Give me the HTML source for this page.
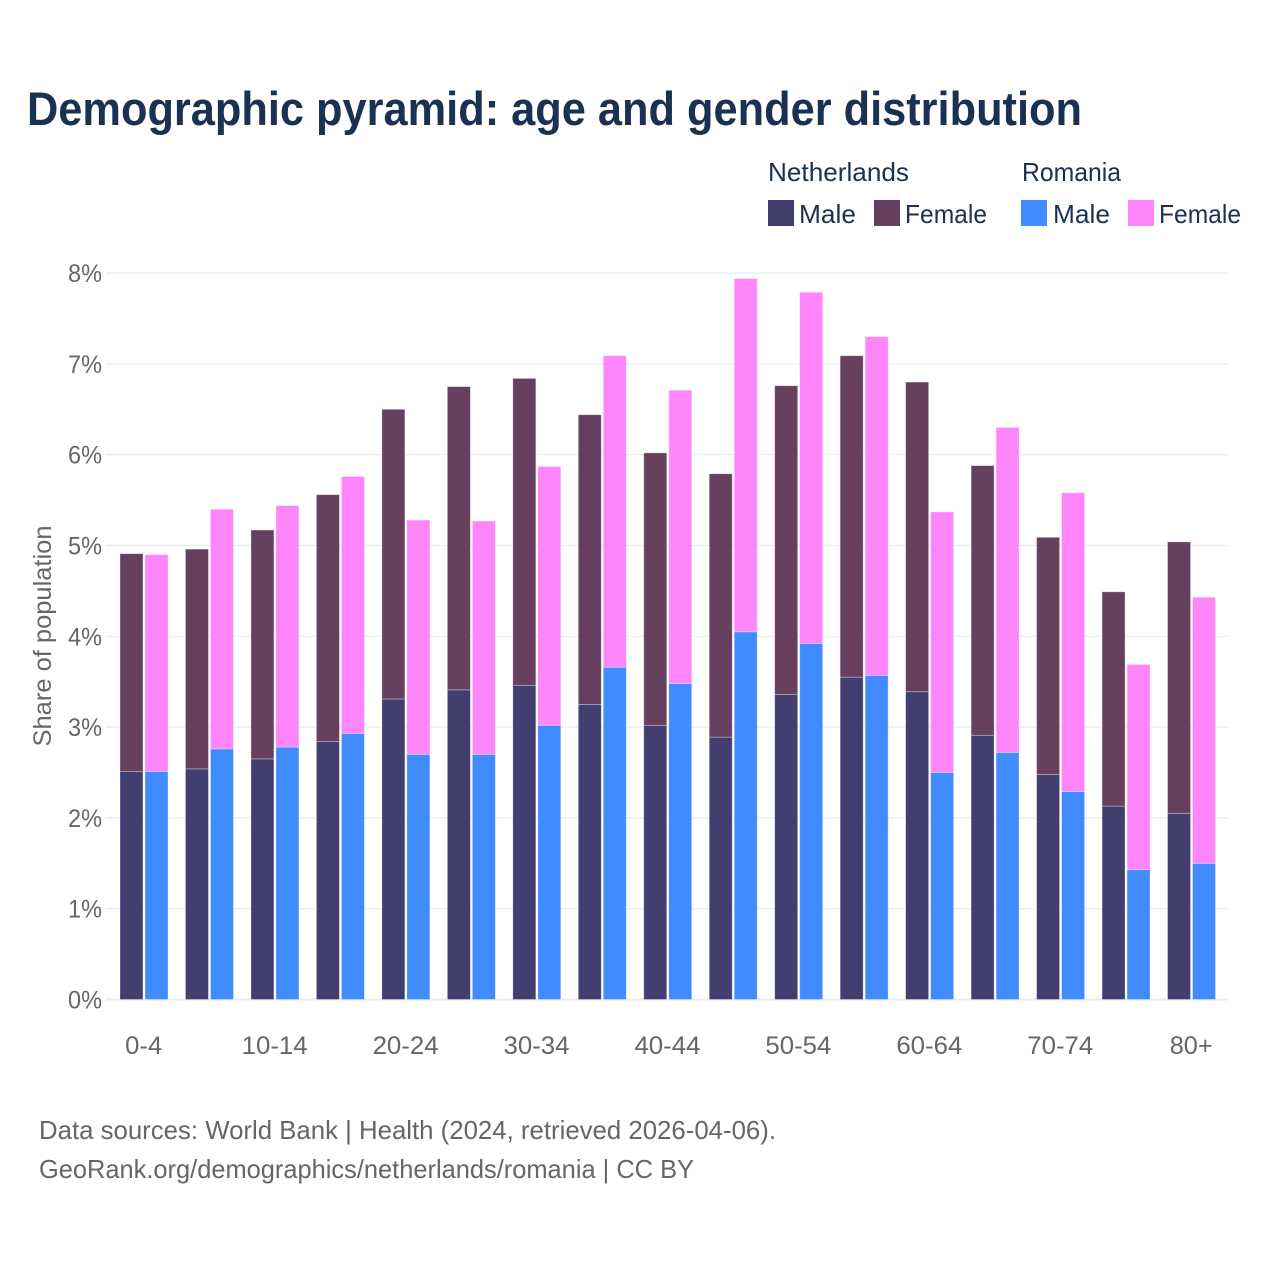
<!DOCTYPE html>
<html lang="en">
<head>
<meta charset="utf-8">
<title>Demographic pyramid: age and gender distribution</title>
<style>
html,body{margin:0;padding:0;background:#fff;}
svg{display:block;font-family:"Liberation Sans",sans-serif;}
</style>
</head>
<body>
<svg id="chart" xmlns="http://www.w3.org/2000/svg" width="1280" height="1280" viewBox="0 0 1280 1280">
  <rect x="0" y="0" width="1280" height="1280" fill="#ffffff"/>
  <text x="27" y="125" font-size="47" font-weight="700" fill="#1a3152" textLength="1055" lengthAdjust="spacingAndGlyphs">Demographic pyramid: age and gender distribution</text>

  <g font-size="26" fill="#1a3152">
    <text x="768" y="181" textLength="141" lengthAdjust="spacingAndGlyphs">Netherlands</text>
    <text x="1022" y="181" textLength="99" lengthAdjust="spacingAndGlyphs">Romania</text>
    <rect x="768" y="200" width="26" height="26" fill="#433e70"/>
    <text x="799" y="223" textLength="57" lengthAdjust="spacingAndGlyphs">Male</text>
    <rect x="874" y="200" width="26" height="26" fill="#67405f"/>
    <text x="905" y="223" textLength="82" lengthAdjust="spacingAndGlyphs">Female</text>
    <rect x="1021" y="200" width="26" height="26" fill="#408cff"/>
    <text x="1053" y="223" textLength="57" lengthAdjust="spacingAndGlyphs">Male</text>
    <rect x="1128" y="200" width="26" height="26" fill="#ff85fb"/>
    <text x="1159" y="223" textLength="82" lengthAdjust="spacingAndGlyphs">Female</text>
  </g>

  <g id="grid"></g>
  <g id="y-ticks" font-size="25" fill="#666666"></g>
  <g id="bars"></g>
  <g id="x-ticks" font-size="25" fill="#666666"></g>

  <text transform="translate(51,636) rotate(-90)" text-anchor="middle" font-size="25" fill="#666666" textLength="221" lengthAdjust="spacingAndGlyphs">Share of population</text>

  <text x="39" y="1139" font-size="26" fill="#666666" textLength="737" lengthAdjust="spacingAndGlyphs">Data sources: World Bank | Health (2024, retrieved 2026-04-06).</text>
  <text x="39" y="1178" font-size="26" fill="#666666" textLength="655" lengthAdjust="spacingAndGlyphs">GeoRank.org/demographics/netherlands/romania | CC BY</text>
</svg>

<script>
var ageGroups = ["0-4","5-9","10-14","15-19","20-24","25-29","30-34","35-39","40-44","45-49","50-54","55-59","60-64","65-69","70-74","75-79","80+"];
var axisLabelFlags = [1,0,1,0,1,0,1,0,1,0,1,0,1,0,1,0,1];
var netherlandsMale = [2.51,2.54,2.65,2.84,3.31,3.41,3.46,3.25,3.02,2.89,3.36,3.55,3.39,2.91,2.48,2.13,2.05];
var netherlandsFemale = [2.40,2.42,2.52,2.72,3.19,3.34,3.38,3.19,3.00,2.90,3.40,3.54,3.41,2.97,2.61,2.36,2.99];
var romaniaMale = [2.51,2.76,2.78,2.93,2.70,2.70,3.02,3.66,3.48,4.05,3.92,3.57,2.50,2.72,2.29,1.43,1.50];
var romaniaFemale = [2.39,2.64,2.66,2.83,2.58,2.57,2.85,3.43,3.23,3.89,3.87,3.73,2.87,3.58,3.29,2.26,2.93];
var yTickValues = [0,1,2,3,4,5,6,7,8];
var yTickLabels = ["0%","1%","2%","3%","4%","5%","6%","7%","8%"];

var NS = "http://www.w3.org/2000/svg";
var netherlandsMaleColor = "#433e70";
var netherlandsFemaleColor = "#67405f";
var romaniaMaleColor = "#408cff";
var romaniaFemaleColor = "#ff85fb";

function yScale(v) { return 999.5 - v * 90.8; }
function groupLeft(i) { return 120 + i * 65.47; }

function drawSegment(x, bottom, top, color) {
  var r = document.createElementNS(NS, "rect");
  r.setAttribute("x", x);
  r.setAttribute("y", yScale(top));
  r.setAttribute("width", 23);
  r.setAttribute("height", yScale(bottom) - yScale(top));
  r.setAttribute("fill", color);
  r.setAttribute("stroke", "#ffffff");
  r.setAttribute("stroke-opacity", "0.4");
  r.setAttribute("stroke-width", "0.8");
  document.getElementById("bars").appendChild(r);
  return r;
}

yTickValues.forEach(function (v, i) {
  var line = document.createElementNS(NS, "line");
  
  
  line.setAttribute("x1", 106);
  line.setAttribute("x2", 1228);
  line.setAttribute("y1", yScale(v));
  line.setAttribute("y2", yScale(v));
  line.setAttribute("stroke", "#ebebef");
  line.setAttribute("stroke-width", v === 0 ? 2 : 1.2);
  document.getElementById("grid").appendChild(line);

  var label = document.createElementNS(NS, "text");
  
  
  label.setAttribute("x", 68);
  label.setAttribute("y", yScale(v) + 9);
  label.setAttribute("textLength", 34);
  label.setAttribute("lengthAdjust", "spacingAndGlyphs");
  label.textContent = yTickLabels[i];
  document.getElementById("y-ticks").appendChild(label);
});

ageGroups.forEach(function (age, i) {
  var left = groupLeft(i);
  var right = left + 25;

  var nm = drawSegment(left, 0, netherlandsMale[i], netherlandsMaleColor);
  
  

  var nf = drawSegment(left, netherlandsMale[i], netherlandsMale[i] + netherlandsFemale[i], netherlandsFemaleColor);
  
  

  var rm = drawSegment(right, 0, romaniaMale[i], romaniaMaleColor);
  
  

  var rf = drawSegment(right, romaniaMale[i], romaniaMale[i] + romaniaFemale[i], romaniaFemaleColor);
  
  

  if (axisLabelFlags[i]) {
    var t = document.createElementNS(NS, "text");
    
    
    t.setAttribute("x", left + 23.7);
    t.setAttribute("y", 1054);
    t.setAttribute("text-anchor", "middle");
    t.setAttribute("textLength", age.length === 5 ? 66 : (age === "0-4" ? 37 : 43));
    t.setAttribute("lengthAdjust", "spacingAndGlyphs");
    t.textContent = age;
    document.getElementById("x-ticks").appendChild(t);
  }
});
</script>
</body>
</html>
